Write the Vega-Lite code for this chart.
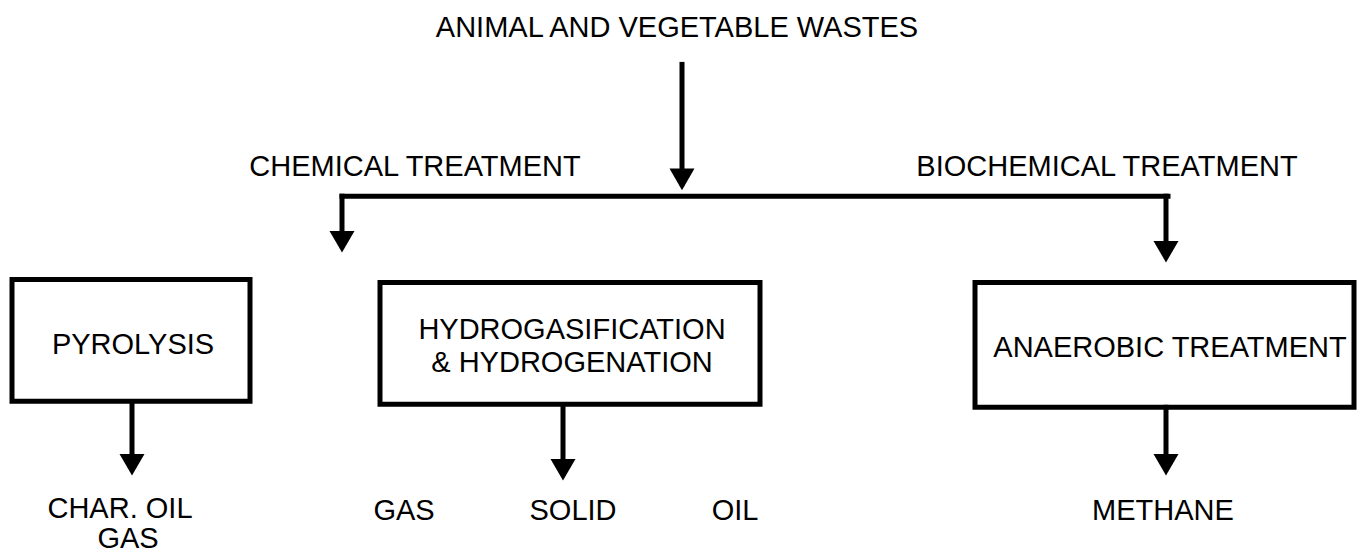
{
  "$schema": "https://vega.github.io/schema/vega-lite/v6.json",
  "width": 1358,
  "height": 554,
  "autosize": {"type": "fit", "contains": "padding"},
  "padding": 0,
  "background": "white",
  "config": {"view": {"stroke": null}},
  "datasets": {
    "lines": [
      {"seg": "waste input", "x": 682, "y": 65, "x2": 682, "y2": 185},
      {"seg": "branch", "x": 342, "y": 198, "x2": 1168, "y2": 198},
      {"seg": "chemical", "x": 342, "y": 198, "x2": 342, "y2": 246},
      {"seg": "biochemical", "x": 1166, "y": 198, "x2": 1166, "y2": 256},
      {"seg": "pyrolysis out", "x": 132, "y": 406, "x2": 132, "y2": 471},
      {"seg": "hydro out", "x": 563, "y": 409, "x2": 563, "y2": 476},
      {"seg": "anaerobic out", "x": 1166, "y": 411, "x2": 1166, "y2": 471}
    ],
    "heads": [
      {"head": "waste input", "x": 682, "y": 181},
      {"head": "chemical", "x": 342, "y": 244},
      {"head": "biochemical", "x": 1166, "y": 254},
      {"head": "pyrolysis out", "x": 132, "y": 469},
      {"head": "hydro out", "x": 563, "y": 474},
      {"head": "anaerobic out", "x": 1166, "y": 469}
    ],
    "boxes": [
      {"box": "PYROLYSIS", "x": 12, "x2": 250, "y": 282, "y2": 405},
      {"box": "HYDROGASIFICATION", "x": 380, "x2": 760, "y": 285, "y2": 408},
      {"box": "ANAEROBIC", "x": 975, "x2": 1354, "y": 285, "y2": 411}
    ],
    "labels": [
      {"label": "ANIMAL AND VEGETABLE WASTES", "x": 677, "y": 37},
      {"label": "CHEMICAL TREATMENT", "x": 415, "y": 178},
      {"label": "BIOCHEMICAL TREATMENT", "x": 1107, "y": 178},
      {"label": "PYROLYSIS", "x": 133, "y": 357},
      {"label": "HYDROGASIFICATION", "x": 572, "y": 342},
      {"label": "& HYDROGENATION", "x": 572, "y": 375},
      {"label": "ANAEROBIC TREATMENT", "x": 1170, "y": 360},
      {"label": "CHAR. OIL", "x": 120, "y": 523},
      {"label": "GAS", "x": 128, "y": 553},
      {"label": "GAS", "x": 404, "y": 525},
      {"label": "SOLID", "x": 573, "y": 525},
      {"label": "OIL", "x": 735, "y": 525},
      {"label": "METHANE", "x": 1163, "y": 525}
    ]
  },
  "encoding": {
    "x": {"field": "x", "type": "quantitative", "scale": {"domain": [0, 1358], "nice": false, "zero": false}, "axis": null},
    "y": {"field": "y", "type": "quantitative", "scale": {"domain": [0, 554], "nice": false, "zero": false, "reverse": true}, "axis": null}
  },
  "layer": [
    {
      "data": {"name": "boxes"},
      "mark": {"type": "rect", "filled": false, "stroke": "#000000", "strokeWidth": 5},
      "encoding": {
        "x2": {"field": "x2"},
        "y2": {"field": "y2"}
      }
    },
    {
      "data": {"name": "lines"},
      "mark": {"type": "rule", "stroke": "#000000", "strokeWidth": 5, "strokeCap": "square"},
      "encoding": {
        "x2": {"field": "x2"},
        "y2": {"field": "y2"}
      }
    },
    {
      "data": {"name": "heads"},
      "mark": {"type": "point", "shape": "triangle-down", "filled": true, "fill": "#000000", "stroke": null, "size": 625, "opacity": 1}
    },
    {
      "data": {"name": "labels"},
      "mark": {"type": "text", "font": "Liberation Sans", "fontSize": 29, "color": "#000000", "align": "center", "baseline": "alphabetic"},
      "encoding": {
        "text": {"field": "label", "type": "nominal"}
      }
    }
  ]
}
